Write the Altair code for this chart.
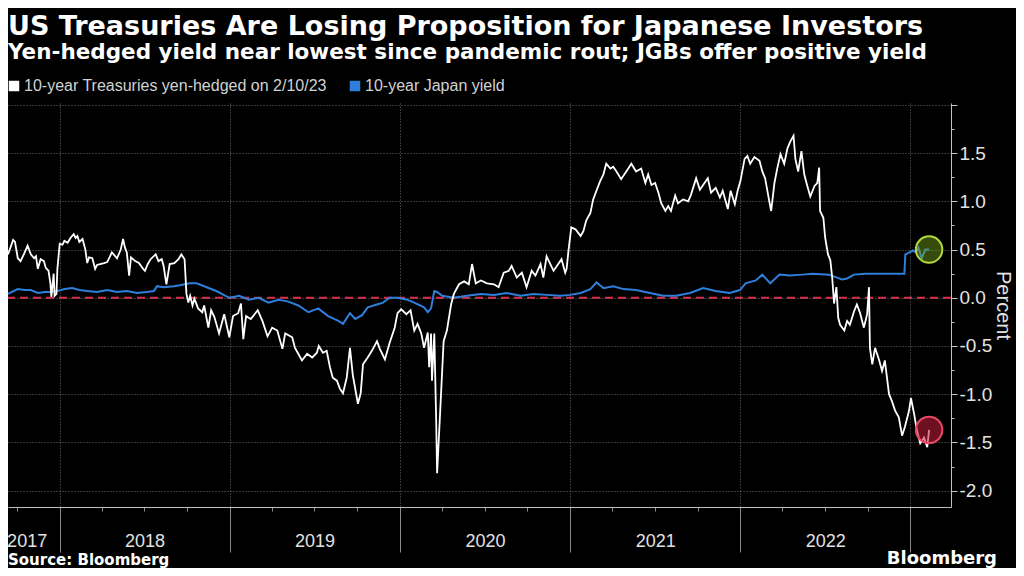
import altair as alt
import pandas as pd

# ---------------- data ----------------
series_names = ["10-year Treasuries yen-hedged on 2/10/23", "10-year Japan yield"]

hedged_dates = [
    "2017-09-12", "2017-09-23", "2017-09-27", "2017-10-03", "2017-10-09", "2017-10-16", "2017-10-24", "2017-10-31",
    "2017-11-07", "2017-11-11", "2017-11-15", "2017-11-21", "2017-11-28", "2017-12-02", "2017-12-08", "2017-12-12",
    "2017-12-14", "2017-12-19", "2017-12-21", "2017-12-25", "2017-12-27", "2018-01-01", "2018-01-07", "2018-01-11",
    "2018-01-18", "2018-01-24", "2018-01-31", "2018-02-04", "2018-02-08", "2018-02-12", "2018-02-19", "2018-02-25",
    "2018-03-01", "2018-03-05", "2018-03-12", "2018-03-18", "2018-03-22", "2018-03-29", "2018-04-06", "2018-04-13",
    "2018-04-23", "2018-05-04", "2018-05-12", "2018-05-17", "2018-05-21", "2018-05-25", "2018-05-30", "2018-06-03",
    "2018-06-12", "2018-06-20", "2018-06-29", "2018-07-03", "2018-07-09", "2018-07-15", "2018-07-26", "2018-08-01",
    "2018-08-08", "2018-08-12", "2018-08-18", "2018-08-25", "2018-09-04", "2018-09-13", "2018-09-19", "2018-09-26",
    "2018-09-30", "2018-10-04", "2018-10-08", "2018-10-13", "2018-10-17", "2018-10-25", "2018-11-03", "2018-11-07",
    "2018-11-16", "2018-11-22", "2018-11-29", "2018-12-09", "2018-12-20", "2018-12-31", "2019-01-08", "2019-01-19",
    "2019-01-25", "2019-01-30", "2019-02-05", "2019-02-15", "2019-03-02", "2019-03-12", "2019-03-23", "2019-04-02",
    "2019-04-13", "2019-04-24", "2019-04-30", "2019-05-15", "2019-05-21", "2019-05-28", "2019-06-05", "2019-06-16",
    "2019-06-27", "2019-07-07", "2019-07-11", "2019-07-20", "2019-07-28", "2019-08-04", "2019-08-10", "2019-08-19",
    "2019-08-25", "2019-09-01", "2019-09-09", "2019-09-16", "2019-09-22", "2019-09-29", "2019-10-03", "2019-10-09",
    "2019-10-14", "2019-10-24", "2019-11-02", "2019-11-13", "2019-11-19", "2019-11-30", "2019-12-10", "2019-12-21",
    "2019-12-27", "2020-01-04", "2020-01-15", "2020-01-24", "2020-02-01", "2020-02-08", "2020-02-16", "2020-02-22",
    "2020-03-01", "2020-03-04", "2020-03-08", "2020-03-10", "2020-03-15", "2020-03-19", "2020-03-21", "2020-03-27",
    "2020-04-04", "2020-04-11", "2020-04-20", "2020-04-26", "2020-05-07", "2020-05-18", "2020-05-28", "2020-06-04",
    "2020-06-12", "2020-06-23", "2020-07-06", "2020-07-21", "2020-07-31", "2020-08-11", "2020-08-22", "2020-08-28",
    "2020-09-08", "2020-09-19", "2020-09-29", "2020-10-10", "2020-10-18", "2020-10-29", "2020-11-04", "2020-11-11",
    "2020-11-19", "2020-11-26", "2020-12-06", "2020-12-13", "2020-12-21", "2020-12-24", "2020-12-28", "2021-01-03",
    "2021-01-12", "2021-01-23", "2021-01-29", "2021-02-04", "2021-02-13", "2021-02-19", "2021-02-26", "2021-03-06",
    "2021-03-13", "2021-03-19", "2021-03-28", "2021-04-03", "2021-04-10", "2021-04-20", "2021-05-01", "2021-05-12",
    "2021-05-22", "2021-06-02", "2021-06-11", "2021-06-17", "2021-06-24", "2021-07-02", "2021-07-09", "2021-07-15",
    "2021-07-24", "2021-07-30", "2021-08-05", "2021-08-14", "2021-08-20", "2021-08-31", "2021-09-11", "2021-09-17",
    "2021-09-28", "2021-10-06", "2021-10-13", "2021-10-23", "2021-10-30", "2021-11-09", "2021-11-18", "2021-11-24",
    "2021-12-05", "2021-12-11", "2021-12-20", "2021-12-26", "2022-01-01", "2022-01-10", "2022-01-16", "2022-01-22",
    "2022-01-31", "2022-02-11", "2022-02-17", "2022-02-23", "2022-03-04", "2022-03-08", "2022-03-15", "2022-03-21",
    "2022-03-28", "2022-04-05", "2022-04-12", "2022-04-18", "2022-04-25", "2022-04-29", "2022-05-05", "2022-05-12",
    "2022-05-18", "2022-05-24", "2022-05-31", "2022-06-09", "2022-06-15", "2022-06-19", "2022-06-21", "2022-06-28",
    "2022-07-02", "2022-07-08", "2022-07-13", "2022-07-17", "2022-07-21", "2022-07-26", "2022-07-30", "2022-08-03",
    "2022-08-12", "2022-08-18", "2022-08-24", "2022-09-02", "2022-09-08", "2022-09-15", "2022-09-23", "2022-09-30",
    "2022-10-04", "2022-10-06", "2022-10-11", "2022-10-17", "2022-10-26", "2022-11-01", "2022-11-07", "2022-11-16",
    "2022-11-22", "2022-11-29", "2022-12-07", "2022-12-14", "2022-12-20", "2022-12-29", "2023-01-02", "2023-01-09",
    "2023-01-15", "2023-01-22", "2023-01-30", "2023-02-06", "2023-02-10",
]
hedged_values = [
    0.45, 0.60, 0.58, 0.41, 0.38, 0.45, 0.54, 0.45,
    0.41, 0.43, 0.30, 0.40, 0.38, 0.31, 0.28, 0.15,
    0.01, 0.25, 0.02, 0.04, 0.30, 0.56, 0.55, 0.59,
    0.57, 0.62, 0.66, 0.62, 0.64, 0.58, 0.61, 0.50,
    0.36, 0.42, 0.41, 0.30, 0.34, 0.35, 0.36, 0.37,
    0.47, 0.41, 0.50, 0.61, 0.52, 0.47, 0.23, 0.42,
    0.38, 0.36, 0.30, 0.28, 0.35, 0.40, 0.45, 0.38,
    0.40, 0.33, 0.14, 0.35, 0.36, 0.40, 0.45, 0.40,
    0.04, -0.05, 0.02, -0.08, -0.01, -0.11, -0.15, -0.08,
    -0.31, -0.13, -0.20, -0.37, -0.17, -0.41, -0.19, -0.16,
    -0.06, -0.43, -0.19, -0.22, -0.13, -0.24, -0.40, -0.31,
    -0.34, -0.53, -0.37, -0.41, -0.52, -0.58, -0.65, -0.58,
    -0.62, -0.57, -0.50, -0.57, -0.55, -0.72, -0.83, -0.86,
    -0.94, -0.99, -0.83, -0.52, -0.80, -0.99, -1.10, -0.99,
    -0.69, -0.62, -0.55, -0.45, -0.53, -0.64, -0.47, -0.31,
    -0.16, -0.12, -0.17, -0.13, -0.34, -0.27, -0.37, -0.52,
    -0.36, -0.72, -0.37, -0.86, -0.37, -1.27, -1.82, -1.24,
    -0.45, -0.34, -0.07, 0.04, 0.14, 0.17, 0.14, 0.35,
    0.15, 0.18, 0.15, 0.14, 0.11, 0.26, 0.28, 0.33,
    0.21, 0.26, 0.11, 0.28, 0.23, 0.35, 0.21, 0.43,
    0.35, 0.28, 0.35, 0.40, 0.26, 0.30, 0.49, 0.73,
    0.71, 0.64, 0.69, 0.80, 0.88, 1.02, 1.11, 1.21,
    1.28, 1.39, 1.34, 1.36, 1.31, 1.23, 1.31, 1.39,
    1.31, 1.34, 1.19, 1.28, 1.17, 1.19, 1.09, 0.98,
    0.90, 0.95, 0.90, 1.06, 0.98, 1.02, 1.00, 1.07,
    1.24, 1.12, 1.17, 1.24, 1.09, 1.14, 1.04, 1.11,
    0.92, 1.11, 0.97, 1.11, 1.21, 1.44, 1.47, 1.39,
    1.46, 1.42, 1.31, 1.24, 1.00, 0.90, 1.19, 1.34,
    1.49, 1.39, 1.55, 1.62, 1.68, 1.44, 1.31, 1.52,
    1.28, 1.17, 1.05, 1.16, 1.19, 1.35, 0.90, 0.83,
    0.62, 0.45, 0.39, 0.21, -0.06, 0.11, -0.21, -0.28,
    -0.34, -0.24, -0.28, -0.14, -0.07, -0.16, -0.31, -0.17,
    0.11, -0.52, -0.69, -0.52, -0.65, -0.76, -0.65, -1.00,
    -1.07, -1.17, -1.24, -1.43, -1.34, -1.17, -1.04, -1.21,
    -1.38, -1.51, -1.45, -1.55, -1.37,
]

japan_dates = [
    "2017-09-12", "2017-10-03", "2017-10-18", "2017-10-31", "2017-11-15", "2017-11-30", "2017-12-12", "2017-12-27",
    "2018-01-11", "2018-01-28", "2018-02-12", "2018-03-01", "2018-03-22", "2018-04-13", "2018-05-04", "2018-05-25",
    "2018-06-16", "2018-07-07", "2018-07-22", "2018-07-29", "2018-08-12", "2018-09-03", "2018-09-16", "2018-10-07",
    "2018-10-22", "2018-11-07", "2018-12-03", "2018-12-31", "2019-01-21", "2019-02-11", "2019-03-04", "2019-03-25",
    "2019-04-16", "2019-05-07", "2019-05-28", "2019-06-19", "2019-07-10", "2019-07-31", "2019-08-22", "2019-09-01",
    "2019-09-16", "2019-09-27", "2019-10-12", "2019-10-24", "2019-11-13", "2019-11-26", "2019-12-10", "2019-12-27",
    "2020-01-17", "2020-02-01", "2020-02-22", "2020-03-01", "2020-03-08", "2020-03-15", "2020-03-21", "2020-04-01",
    "2020-04-26", "2020-05-24", "2020-06-23", "2020-07-21", "2020-08-17", "2020-09-16", "2020-10-14", "2020-11-11",
    "2020-12-11", "2021-01-01", "2021-01-23", "2021-02-13", "2021-02-26", "2021-03-13", "2021-04-03", "2021-04-25",
    "2021-05-22", "2021-06-21", "2021-07-19", "2021-08-16", "2021-09-15", "2021-10-13", "2021-11-09", "2021-12-09",
    "2021-12-31", "2022-01-12", "2022-02-03", "2022-02-17", "2022-03-06", "2022-03-26", "2022-04-16", "2022-05-14",
    "2022-06-04", "2022-07-10", "2022-08-07", "2022-08-18", "2022-09-02", "2022-09-26", "2022-10-26", "2022-11-22",
    "2022-12-19", "2022-12-21", "2022-12-30", "2023-01-06", "2023-01-13", "2023-01-18", "2023-01-25", "2023-02-02",
    "2023-02-10",
]
japan_values = [
    0.04, 0.09, 0.08, 0.08, 0.05, 0.06, 0.06, 0.07,
    0.09, 0.10, 0.08, 0.07, 0.06, 0.08, 0.06, 0.07,
    0.05, 0.06, 0.07, 0.12, 0.11, 0.12, 0.13, 0.15,
    0.15, 0.12, 0.07, 0.00, 0.02, -0.02, 0.00, -0.05,
    -0.02, -0.04, -0.08, -0.15, -0.11, -0.19, -0.24, -0.27,
    -0.16, -0.22, -0.18, -0.10, -0.07, -0.05, 0.00, 0.00,
    -0.02, -0.05, -0.10, -0.15, -0.11, 0.07, 0.06, 0.02,
    0.00, 0.02, 0.04, 0.03, 0.05, 0.02, 0.04, 0.03,
    0.02, 0.03, 0.05, 0.09, 0.16, 0.10, 0.12, 0.09,
    0.08, 0.05, 0.02, 0.02, 0.05, 0.10, 0.07, 0.05,
    0.08, 0.15, 0.18, 0.24, 0.15, 0.24, 0.23, 0.24,
    0.25, 0.24, 0.19, 0.20, 0.24, 0.25, 0.25, 0.25,
    0.25, 0.45, 0.47, 0.49, 0.47, 0.52, 0.41, 0.50,
    0.50,
]

x_domain = ["2017-09-12", "2023-03-29"]
y_domain = [-2.17, 2.02]
year_bounds = ["2018-01-01", "2019-01-01", "2020-01-01", "2021-01-01", "2022-01-01", "2023-01-01"]
year_label_dates = ["2017-10-22", "2018-07-02", "2019-07-02", "2020-07-02", "2021-07-02", "2022-07-02"]
quarter_ticks = [
    "2017-10-01", "2018-04-01", "2018-07-01", "2018-10-01", "2019-04-01", "2019-07-01", "2019-10-01",
    "2020-04-01", "2020-07-01", "2020-10-01", "2021-04-01", "2021-07-01", "2021-10-01",
    "2022-04-01", "2022-07-01", "2022-10-01",
]
y_major = [-2.0, -1.5, -1.0, -0.5, 0.0, 0.5, 1.0, 1.5, 2.0]
y_minor = [-2.0, -1.75, -1.5, -1.25, -1.0, -0.75, -0.5, -0.25, 0.0, 0.25, 0.5, 0.75, 1.0, 1.25, 1.5, 1.75, 2.0]
zero_line = [0.0]

title_text = "US Treasuries Are Losing Proposition for Japanese Investors"
subtitle_text = "Yen-hedged yield near lowest since pandemic rout; JGBs offer positive yield"
source_text = "Source: Bloomberg"
brand_text = "Bloomberg"

# ---------------- styles ----------------
line_colors = ["#ffffff", "#2d7fdb"]
TITLE_FONT = "DejaVu Sans"
LABEL_FONT = "Liberation Sans, Arial, sans-serif"
GRID = "#6e6e6e"
AXIS = "#c0c0c0"
TEXT = "#e2e2e2"


def dt(s):
    y, m, d = (int(p) for p in s.split("-"))
    return alt.DateTime(year=y, month=m, date=d)


hedged = pd.DataFrame({"date": pd.to_datetime(hedged_dates), "value": hedged_values})
japan = pd.DataFrame({"date": pd.to_datetime(japan_dates), "value": japan_values})
hedged_end = hedged.tail(1)
japan_end = japan.tail(1)
legend_df = pd.DataFrame({"series": series_names})
zero_df = pd.DataFrame({"value": zero_line})
notes_df = pd.DataFrame({"source": [source_text], "brand": [brand_text]})

x_scale = alt.Scale(domain=[dt(x_domain[0]), dt(x_domain[1])], nice=False)
y_scale = alt.Scale(domain=y_domain, nice=False, zero=False)

main_x_axis = alt.Axis(
    orient="bottom", values=[dt(s) for s in year_bounds], title=None, labels=False,
    grid=True, gridColor=GRID, gridDash=[1, 2], gridWidth=1,
    ticks=True, tickSize=45, tickColor="#8a8a8a", tickWidth=1,
    domain=True, domainColor=AXIS, domainWidth=1,
)
main_y_axis = alt.Axis(
    orient="right", values=y_major, title="Percent",
    grid=True, gridColor=GRID, gridDash=[1, 2], gridWidth=1,
    ticks=True, tickSize=6, tickColor=AXIS, tickWidth=1,
    domain=True, domainColor=AXIS, domainWidth=1,
    labelExpr="datum.value > 1.9 ? '' : replace(format(datum.value, '.1f'), '\u2212', '-')",
    labelFont=LABEL_FONT, labelFontSize=19, labelColor=TEXT, labelPadding=2,
    titleFont=LABEL_FONT, titleFontSize=20, titleFontWeight="normal", titleColor=TEXT,
    titleAngle=90, titlePadding=1,
)
minor_x_axis = alt.Axis(
    orient="bottom", values=[dt(s) for s in quarter_ticks], title=None, labels=False,
    grid=False, ticks=True, tickSize=4, tickColor="#8a8a8a", domain=False,
)
minor_y_axis = alt.Axis(
    orient="right", values=y_minor, title=None, labels=False,
    grid=False, ticks=True, tickSize=3, tickColor=AXIS, domain=False,
)
label_x_axis = alt.Axis(
    orient="bottom", values=[dt(s) for s in year_label_dates], title=None, format="%Y",
    grid=False, ticks=False, tickSize=0, domain=False, labelFlush=False, labelOverlap=False,
    labelFont=LABEL_FONT, labelFontSize=18, labelColor=TEXT, labelPadding=25,
)

zero_rule = alt.Chart(zero_df).mark_rule(color="#d8304a", strokeDash=[8, 5], strokeWidth=2).encode(
    y=alt.Y("value:Q", scale=y_scale, axis=None)
)

blue_line = alt.Chart(japan).mark_line(color=line_colors[1], strokeWidth=2).encode(
    x=alt.X("date:T", scale=x_scale, axis=minor_x_axis),
    y=alt.Y("value:Q", scale=y_scale, axis=minor_y_axis),
)

white_line = alt.Chart(hedged).mark_line(color=line_colors[0], strokeWidth=1.8).encode(
    x=alt.X("date:T", scale=x_scale, axis=main_x_axis),
    y=alt.Y("value:Q", scale=y_scale, axis=main_y_axis),
)

red_circle = alt.Chart(hedged_end).mark_point(
    shape="circle", filled=False, size=700, strokeWidth=2,
    fill="#c81e3a", fillOpacity=0.55, stroke="#ea4862", opacity=1,
).encode(
    x=alt.X("date:T", scale=x_scale, axis=label_x_axis),
    y=alt.Y("value:Q", scale=y_scale, axis=None),
)

green_circle = alt.Chart(japan_end).mark_point(
    shape="circle", filled=False, size=700, strokeWidth=2,
    fill="#7aa61a", fillOpacity=0.45, stroke="#b2d83a", opacity=1,
).encode(
    x=alt.X("date:T", scale=x_scale, axis=None),
    y=alt.Y("value:Q", scale=y_scale, axis=None),
)

legend_layer = alt.Chart(legend_df).mark_square(opacity=0, size=10).encode(
    color=alt.Color(
        "series:N",
        scale=alt.Scale(domain=series_names, range=line_colors),
        legend=alt.Legend(
            orient="none", legendX=-2, legendY=-25, direction="horizontal", title=None,
            symbolType="square", symbolSize=110, symbolStrokeWidth=0, symbolOpacity=1,
            labelFont=LABEL_FONT, labelFontSize=16, labelColor="#d2d2d2", labelLimit=600,
            columnPadding=20, labelOffset=2, padding=0,
        ),
    )
)

source_note = alt.Chart(notes_df).mark_text(
    align="left", baseline="middle", font=TITLE_FONT, fontWeight="bold", fontSize=15, color="#ffffff"
).encode(x=alt.value(0), y=alt.value(457), text="source:N")

brand_note = alt.Chart(notes_df).mark_text(
    align="right", baseline="middle", font=TITLE_FONT, fontWeight="bold", fontSize=18, color="#ffffff"
).encode(x=alt.value(989), y=alt.value(456), text="brand:N")

chart = (
    alt.layer(zero_rule, blue_line, white_line, red_circle, green_circle, legend_layer, source_note, brand_note)
    .resolve_axis(x="independent", y="independent")
    .properties(
        width=943,
        height=404,
        autosize="none",
        padding={"left": 0, "top": 95, "right": 65, "bottom": 61},
        title=alt.TitleParams(
            text=title_text, subtitle=subtitle_text, anchor="start", frame="group",
            font=TITLE_FONT, fontSize=27, fontWeight="bold", color="#ffffff",
            subtitleFont=TITLE_FONT, subtitleFontSize=21.5, subtitleFontWeight="bold",
            subtitleColor="#ffffff", subtitlePadding=1, offset=14,
        ),
    )
    .configure(background="#000000")
    .configure_view(stroke=None)
)

chart.save("out.html", embed_options={"renderer": "svg", "actions": False})
